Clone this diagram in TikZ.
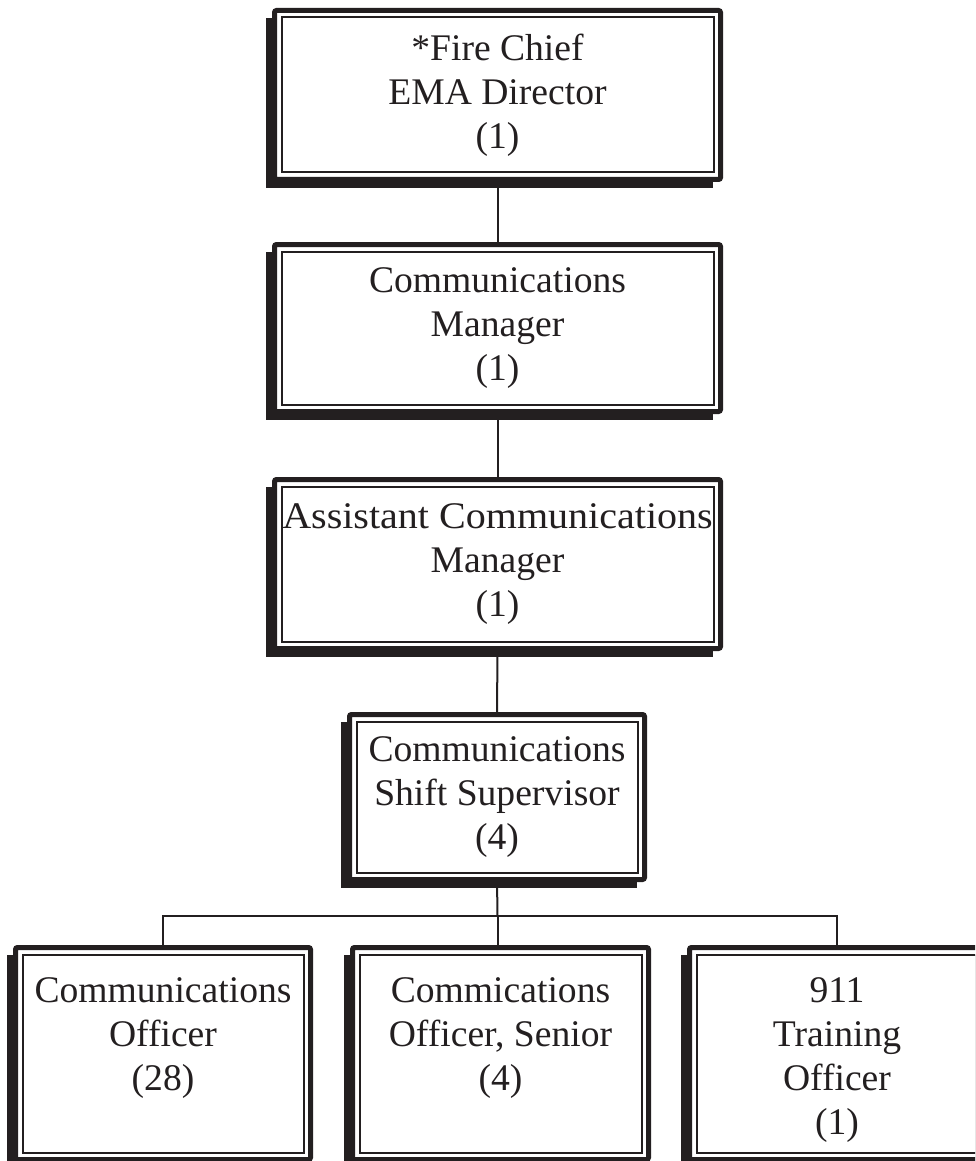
\documentclass[tikz,border=0pt]{standalone}
\usepackage{fontspec}
\setmainfont{Liberation Serif}
\definecolor{ink}{HTML}{231F20}
\tikzset{
  orgbox/.style={draw=ink, line width=5pt, rounded corners=2pt, fill=white, outer sep=0pt, inner sep=0pt},
  innerbox/.style={draw=ink, line width=2pt},
  shadowbox/.style={fill=ink},
  boxtext/.style={align=center, inner sep=0pt, text=ink, font=\fontsize{37.6}{44}\selectfont},
  link/.style={draw=ink, line width=2pt},
}
\newcommand\orgboxdraw[5]{%
  \fill[shadowbox] (#2-6,#3+10) rectangle (#4-10,#5+6);
  \node[orgbox, minimum width={#4-#2-5}, minimum height={#5-#3-5}] (#1) at ({(#2+#4)/2},{(#3+#5)/2}) {};
  \draw[innerbox] (#2+9.5,#3+9.5) rectangle (#4-9.5,#5-9.5);
}
\begin{document}
\begin{tikzpicture}[x=1pt,y=-1pt]
\useasboundingbox (0,0) rectangle (975,1161);
\clip (0,0) rectangle (975,1161);
\orgboxdraw{b1}{272}{8}{723}{182}
\orgboxdraw{b2}{272}{242}{723}{414}
\orgboxdraw{b3}{272}{477}{723}{651}
\orgboxdraw{b4}{347}{712}{647}{882}
\orgboxdraw{b5}{13}{945}{313}{1162}
\orgboxdraw{b6}{350}{945}{651}{1162}
\orgboxdraw{b7}{687}{945}{987}{1162}
\node[boxtext] (t1) at (497.5,95) {*Fire Chief\\EMA Director\\(1)};
\node[boxtext] (t2) at (497.5,328) {Communications\\Manager\\(1)};
\node[boxtext] (t3) at (497.5,564) {\scalebox{1.065}[1]{Assistant Communications}\\Manager\\(1)};
\node[boxtext] (t4) at (497,797) {Communications\\Shift Supervisor\\(4)};
\node[boxtext, anchor=north] (t5) at (163,977) {Communications\\Officer\\(28)};
\node[boxtext, anchor=north] (t6) at (500.5,977) {Commications\\Officer, Senior\\(4)};
\node[boxtext, anchor=north] (t7) at (837,977) {911\\Training\\Officer\\(1)};
\coordinate (bus) at (497.5,916);
\draw[link] (b1.south) -- (b2.north);
\draw[link] (b2.south) -- (b3.north);
\draw[link] (b3.south) -- (b4.north);
\draw[link] (b4.south) -- (bus);
\draw[link] (b5.north) |- (bus) -| (b7.north);
\draw[link] (bus) -- (bus |- b6.north);
\end{tikzpicture}
\end{document}
